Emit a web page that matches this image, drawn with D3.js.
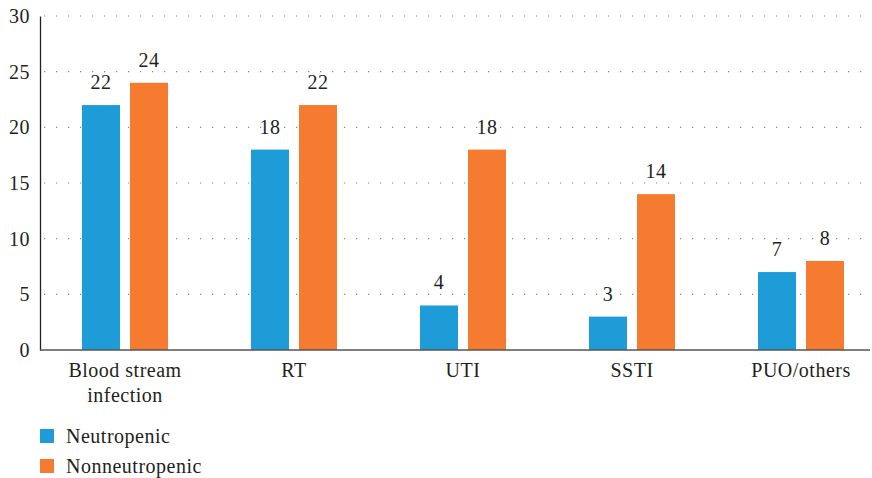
<!DOCTYPE html>
<html>
<head>
<meta charset="utf-8">
<script src="https://cdn.jsdelivr.net/npm/d3@7"></script>
<style>
  body { margin: 0; background: #fff; }
</style>
</head>
<body>
<div id="chart"></div>
<script>
var categories = ['Blood stream|infection', 'RT', 'UTI', 'SSTI', 'PUO/others'];
var neutropenic = [22, 18, 4, 3, 7];
var nonneutropenic = [24, 22, 18, 14, 8];
var seriesNames = ['Neutropenic', 'Nonneutropenic'];
var yTicks = [0, 5, 10, 15, 20, 25, 30];

var colors = ['#1e9cd7', '#f47b30'];
var fontSize = '20px';
var serif = "'Liberation Serif', 'DejaVu Serif', serif";

var svg = d3.select('#chart').append('svg')
    .attr('width', 872)
    .attr('height', 478);

var plotLeft = 40, plotRight = 870, plotTop = 16, plotBottom = 350;

var x = d3.scaleBand().range([40.5, 885.5]).domain(categories);
var y = d3.scaleLinear().range([plotBottom, plotTop]).domain([0, 30]);

// dotted gridlines
svg.selectAll('.grid')
    .data(yTicks.filter(function(d) { return d > 0; }))
    .enter().append('line')
    .attr('x1', plotLeft + 4).attr('x2', plotRight)
    .attr('y1', function(d) { return y(d); })
    .attr('y2', function(d) { return y(d); })
    .attr('stroke', '#888')
    .attr('stroke-width', 1.2)
    .attr('stroke-dasharray', '1.2 10.8');

// bars + value labels
var series = [neutropenic, nonneutropenic];
var barW = 38, gap = 5;
series.forEach(function(vals, i) {
    svg.selectAll('.bar' + i)
        .data(vals)
        .enter().append('rect')
        .attr('x', function(d, j) {
            var c = x(categories[j]) + x.bandwidth() / 2;
            return i === 0 ? c - gap - barW : c + gap;
        })
        .attr('y', function(d) { return y(d); })
        .attr('width', barW)
        .attr('height', function(d) { return plotBottom - y(d); })
        .attr('fill', colors[i]);

    svg.selectAll('.lab' + i)
        .data(vals)
        .enter().append('text')
        .attr('x', function(d, j) {
            var c = x(categories[j]) + x.bandwidth() / 2;
            return i === 0 ? c - gap - barW / 2 : c + gap + barW / 2;
        })
        .attr('y', function(d) { return y(d) - 16; })
        .attr('text-anchor', 'middle')
        .text(function(d) { return d; });
});

// y axis
var yAxis = svg.append('g')
    .attr('transform', 'translate(' + plotLeft + ',0)')
    .call(d3.axisLeft(y).tickValues(yTicks).tickSize(0).tickPadding(10));
yAxis.select('.domain').attr('stroke', '#231f20').attr('stroke-width', 1.3);

// baseline
svg.append('line')
    .attr('x1', plotLeft).attr('x2', plotRight)
    .attr('y1', plotBottom).attr('y2', plotBottom)
    .attr('stroke', '#555')
    .attr('stroke-width', 1.5);

// category labels
svg.selectAll('.cat')
    .data(categories)
    .enter().append('text')
    .attr('text-anchor', 'middle')
    .attr('y', 377)
    .each(function(d) {
        var t = d3.select(this);
        d.split('|').forEach(function(p, k) {
            t.append('tspan')
                .attr('x', x(d) + x.bandwidth() / 2)
                .attr('dy', k === 0 ? 0 : 25)
                .text(p);
        });
    });

// legend
var lg = svg.selectAll('.leg')
    .data(seriesNames)
    .enter().append('g')
    .attr('transform', function(d, i) { return 'translate(40,' + (429 + i * 30) + ')'; });
lg.append('rect').attr('width', 14).attr('height', 14)
    .attr('fill', function(d, i) { return colors[i]; });
lg.append('text').attr('x', 26).attr('y', 14)
    .text(function(d) { return d; });

// one font for every text
svg.selectAll('text')
    .attr('font-family', serif)
    .attr('font-size', fontSize)
    .attr('fill', '#231f20')
    .style('letter-spacing', '0.5px');
</script>
</body>
</html>
